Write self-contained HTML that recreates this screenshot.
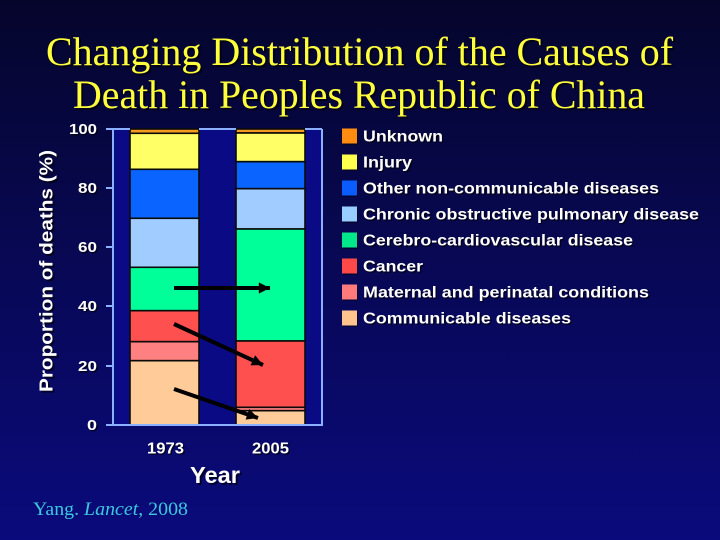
<!DOCTYPE html>
<html>
<head>
<meta charset="utf-8">
<style>
  html,body{margin:0;padding:0;}
  body{width:720px;height:540px;overflow:hidden;background:#07074a;}
  svg{display:block;}
  .b{font-family:"Liberation Sans",Arial,sans-serif;font-weight:bold;}
  .s{font-family:"Liberation Serif","Times New Roman",serif;}
</style>
</head>
<body>
<svg width="720" height="540" viewBox="0 0 720 540" xmlns="http://www.w3.org/2000/svg">
  <defs>
    <linearGradient id="bg" x1="0" y1="0" x2="0" y2="1">
      <stop offset="0" stop-color="#05052c"/>
      <stop offset="0.5" stop-color="#080856"/>
      <stop offset="1" stop-color="#0a0a7c"/>
    </linearGradient>
    <marker id="ah" viewBox="0 0 10 10" refX="10" refY="5" markerWidth="3.2" markerHeight="2.8" orient="auto" markerUnits="strokeWidth">
      <path d="M0,0 L10,5 L0,10 z" fill="#000"/>
    </marker>
  </defs>
  <rect x="0" y="0" width="720" height="540" fill="url(#bg)"/>

  <!-- Title -->
  <g class="s" font-size="40">
    <text x="48" y="67" fill="#000" opacity="0.6" textLength="627" lengthAdjust="spacingAndGlyphs">Changing Distribution of the Causes of</text>
    <text x="75" y="110" fill="#000" opacity="0.6" textLength="572" lengthAdjust="spacingAndGlyphs">Death in Peoples Republic of China</text>
    <text x="46" y="65" fill="#ffff3c" textLength="627" lengthAdjust="spacingAndGlyphs">Changing Distribution of the Causes of</text>
    <text x="73" y="108" fill="#ffff3c" textLength="572" lengthAdjust="spacingAndGlyphs">Death in Peoples Republic of China</text>
  </g>

  <!-- Plot area -->
  <rect x="113" y="129" width="209" height="296" fill="#0a0a84"/>

  <!-- Bars 1973 -->
  <g stroke="#0a0a0a" stroke-width="1.6">
    <rect x="130" y="129" width="69" height="4.3" fill="#f39a1f"/>
    <rect x="130" y="133.3" width="69" height="36" fill="#ffff66"/>
    <rect x="130" y="169.3" width="69" height="49" fill="#0a64ff"/>
    <rect x="130" y="218.3" width="69" height="49" fill="#a0ccff"/>
    <rect x="130" y="267.3" width="69" height="43.4" fill="#00ff99"/>
    <rect x="130" y="310.7" width="69" height="31" fill="#ff5050"/>
    <rect x="130" y="341.7" width="69" height="19" fill="#ff8080"/>
    <rect x="130" y="360.7" width="69" height="64.3" fill="#ffcc99"/>
  </g>
  <!-- Bars 2005 -->
  <g stroke="#0a0a0a" stroke-width="1.6">
    <rect x="236" y="129" width="69" height="4" fill="#f39a1f"/>
    <rect x="236" y="133" width="69" height="28.7" fill="#ffff66"/>
    <rect x="236" y="161.7" width="69" height="27" fill="#0a64ff"/>
    <rect x="236" y="188.7" width="69" height="40.3" fill="#a0ccff"/>
    <rect x="236" y="229" width="69" height="112" fill="#00ff99"/>
    <rect x="236" y="341" width="69" height="66.3" fill="#ff5050"/>
    <rect x="236" y="407.3" width="69" height="3.4" fill="#ff8080"/>
    <rect x="236" y="410.7" width="69" height="14.3" fill="#ffcc99"/>
  </g>

  <!-- Frame / axes -->
  <g stroke="#8ab0ff" stroke-width="2" fill="none">
    <line x1="113" y1="129" x2="130" y2="129"/>
    <line x1="199" y1="129" x2="236" y2="129"/>
    <line x1="305" y1="129" x2="322" y2="129"/>
    <line x1="322" y1="129" x2="322" y2="425"/>
    <line x1="113" y1="128" x2="113" y2="426"/>
    <line x1="106" y1="425" x2="323" y2="425"/>
    <line x1="106" y1="129" x2="113" y2="129"/>
    <line x1="106" y1="188" x2="113" y2="188"/>
    <line x1="106" y1="247" x2="113" y2="247"/>
    <line x1="106" y1="306" x2="113" y2="306"/>
    <line x1="106" y1="366" x2="113" y2="366"/>
  </g>

  <!-- Arrows -->
  <g stroke="#000" stroke-width="4" fill="none" marker-end="url(#ah)">
    <line x1="174" y1="288" x2="270" y2="288"/>
    <line x1="174" y1="324" x2="263" y2="365"/>
    <line x1="174" y1="389" x2="258" y2="418"/>
  </g>

  <!-- Y tick labels -->
  <g class="b" font-size="14.5" text-anchor="end">
    <g fill="#000" opacity="0.6" transform="translate(1.5,1.5)">
      <text x="97" y="134" textLength="28" lengthAdjust="spacingAndGlyphs">100</text>
      <text x="97" y="193" textLength="19" lengthAdjust="spacingAndGlyphs">80</text>
      <text x="97" y="252" textLength="19" lengthAdjust="spacingAndGlyphs">60</text>
      <text x="97" y="311" textLength="19" lengthAdjust="spacingAndGlyphs">40</text>
      <text x="97" y="371" textLength="19" lengthAdjust="spacingAndGlyphs">20</text>
      <text x="97" y="430" textLength="10" lengthAdjust="spacingAndGlyphs">0</text>
    </g>
    <g fill="#fff">
      <text x="97" y="134" textLength="28" lengthAdjust="spacingAndGlyphs">100</text>
      <text x="97" y="193" textLength="19" lengthAdjust="spacingAndGlyphs">80</text>
      <text x="97" y="252" textLength="19" lengthAdjust="spacingAndGlyphs">60</text>
      <text x="97" y="311" textLength="19" lengthAdjust="spacingAndGlyphs">40</text>
      <text x="97" y="371" textLength="19" lengthAdjust="spacingAndGlyphs">20</text>
      <text x="97" y="430" textLength="10" lengthAdjust="spacingAndGlyphs">0</text>
    </g>
  </g>

  <!-- X tick labels -->
  <g class="b" font-size="16">
    <text x="148.5" y="454.8" fill="#000" opacity="0.6" textLength="37" lengthAdjust="spacingAndGlyphs">1973</text>
    <text x="253.5" y="454.8" fill="#000" opacity="0.6" textLength="37" lengthAdjust="spacingAndGlyphs">2005</text>
    <text x="147" y="453.3" fill="#fff" textLength="37" lengthAdjust="spacingAndGlyphs">1973</text>
    <text x="252" y="453.3" fill="#fff" textLength="37" lengthAdjust="spacingAndGlyphs">2005</text>
  </g>

  <!-- Axis titles -->
  <g class="b">
    <text x="192" y="485" font-size="23" fill="#000" opacity="0.6" textLength="50" lengthAdjust="spacingAndGlyphs">Year</text>
    <text x="190" y="483" font-size="23" fill="#fff" textLength="50" lengthAdjust="spacingAndGlyphs">Year</text>
    <text transform="translate(54.5,273) rotate(-90)" text-anchor="middle" font-size="18" fill="#000" opacity="0.6" textLength="242" lengthAdjust="spacingAndGlyphs">Proportion of deaths (%)</text>
    <text transform="translate(52.5,271) rotate(-90)" text-anchor="middle" font-size="18" fill="#fff" textLength="242" lengthAdjust="spacingAndGlyphs">Proportion of deaths (%)</text>
  </g>

  <!-- Legend -->
  <g>
    <rect x="343" y="130" width="15" height="15" fill="#000" opacity="0.4"/>
    <rect x="343" y="156" width="15" height="15" fill="#000" opacity="0.4"/>
    <rect x="343" y="182" width="15" height="15" fill="#000" opacity="0.4"/>
    <rect x="343" y="208" width="15" height="15" fill="#000" opacity="0.4"/>
    <rect x="343" y="234" width="15" height="15" fill="#000" opacity="0.4"/>
    <rect x="343" y="260" width="15" height="15" fill="#000" opacity="0.4"/>
    <rect x="343" y="286" width="15" height="15" fill="#000" opacity="0.4"/>
    <rect x="343" y="312" width="15" height="15" fill="#000" opacity="0.4"/>
    <rect x="342" y="128.5" width="15" height="15" fill="#ff8c10"/>
    <rect x="342" y="154.5" width="15" height="15" fill="#ffff4d"/>
    <rect x="342" y="180.5" width="15" height="15" fill="#0a5cff"/>
    <rect x="342" y="206.5" width="15" height="15" fill="#99ccff"/>
    <rect x="342" y="232.5" width="15" height="15" fill="#00e88a"/>
    <rect x="342" y="258.5" width="15" height="15" fill="#ff4848"/>
    <rect x="342" y="284.5" width="15" height="15" fill="#ff7a7a"/>
    <rect x="342" y="310.5" width="15" height="15" fill="#ffc48e"/>
  </g>
  <g class="b" font-size="16">
    <g fill="#000" opacity="0.6" transform="translate(1.5,1.5)">
      <text x="363" y="141.7" textLength="80" lengthAdjust="spacingAndGlyphs">Unknown</text>
      <text x="363" y="167.7" textLength="49" lengthAdjust="spacingAndGlyphs">Injury</text>
      <text x="363" y="193.7" textLength="296" lengthAdjust="spacingAndGlyphs">Other non-communicable diseases</text>
      <text x="363" y="219.7" textLength="336" lengthAdjust="spacingAndGlyphs">Chronic obstructive pulmonary disease</text>
      <text x="363" y="245.7" textLength="270" lengthAdjust="spacingAndGlyphs">Cerebro-cardiovascular disease</text>
      <text x="363" y="271.7" textLength="60" lengthAdjust="spacingAndGlyphs">Cancer</text>
      <text x="363" y="297.7" textLength="286" lengthAdjust="spacingAndGlyphs">Maternal and perinatal conditions</text>
      <text x="363" y="323.7" textLength="208" lengthAdjust="spacingAndGlyphs">Communicable diseases</text>
    </g>
    <g fill="#fff">
      <text x="363" y="141.7" textLength="80" lengthAdjust="spacingAndGlyphs">Unknown</text>
      <text x="363" y="167.7" textLength="49" lengthAdjust="spacingAndGlyphs">Injury</text>
      <text x="363" y="193.7" textLength="296" lengthAdjust="spacingAndGlyphs">Other non-communicable diseases</text>
      <text x="363" y="219.7" textLength="336" lengthAdjust="spacingAndGlyphs">Chronic obstructive pulmonary disease</text>
      <text x="363" y="245.7" textLength="270" lengthAdjust="spacingAndGlyphs">Cerebro-cardiovascular disease</text>
      <text x="363" y="271.7" textLength="60" lengthAdjust="spacingAndGlyphs">Cancer</text>
      <text x="363" y="297.7" textLength="286" lengthAdjust="spacingAndGlyphs">Maternal and perinatal conditions</text>
      <text x="363" y="323.7" textLength="208" lengthAdjust="spacingAndGlyphs">Communicable diseases</text>
    </g>
  </g>

  <!-- Footer citation -->
  <text class="s" x="33" y="515" font-size="19" fill="#3cc8dc" textLength="155" lengthAdjust="spacingAndGlyphs">Yang. <tspan font-style="italic">Lancet</tspan>, 2008</text>
</svg>
</body>
</html>
